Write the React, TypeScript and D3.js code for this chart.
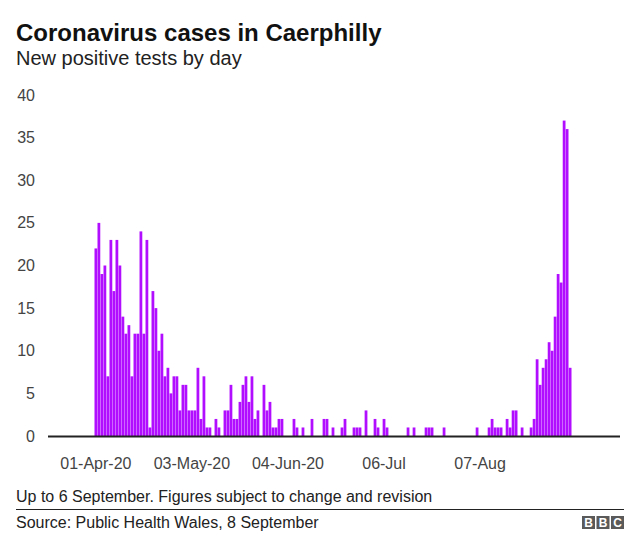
import * as d3 from 'd3';

// daily new positive tests, 1 Apr 2020 -> 6 Sep 2020
const START = new Date(2020, 3, 1);
const END = new Date(2020, 8, 7);
const cases = [
  22, 25, 19, 20, 7, 23, 17, 23, 20, 14, 12, 13, 7, 12, 12, 24, 12, 23, 1, 17,
  15, 10, 12, 7, 8, 5, 7, 7, 3, 6, 6, 3, 3, 3, 8, 2, 7, 1, 1, 0,
  2, 1, 0, 3, 3, 6, 2, 2, 4, 6, 7, 4, 7, 2, 3, 0, 6, 3, 4, 1,
  1, 2, 2, 0, 0, 0, 2, 1, 0, 1, 0, 0, 2, 0, 0, 0, 2, 2, 0, 1,
  0, 0, 1, 2, 0, 0, 1, 1, 1, 0, 3, 0, 0, 2, 1, 0, 2, 1, 0, 0,
  0, 0, 0, 0, 1, 0, 1, 0, 0, 0, 1, 1, 1, 0, 0, 0, 1, 0, 0, 0,
  0, 0, 0, 0, 0, 0, 0, 1, 0, 0, 0, 1, 2, 1, 1, 1, 0, 2, 1, 3,
  3, 0, 1, 0, 0, 1, 2, 9, 6, 8, 9, 11, 10, 14, 19, 18, 37, 36, 8,
];
const tickDates = ['2020-04-01', '2020-05-03', '2020-06-04', '2020-07-06', '2020-08-07'];
const tickLabels = ['01-Apr-20', '03-May-20', '04-Jun-20', '06-Jul', '07-Aug'];
const yTicks = [0, 5, 10, 15, 20, 25, 30, 35, 40];

const W = 640;
const H = 552;
const FONT = '"Liberation Sans", Arial, Helvetica, sans-serif';
const BAR = '#b10dff';

const days = d3.timeDay.range(START, END);
const fmt = d3.timeFormat('%Y-%m-%d');
const data = days.map((d, i) => ({ key: fmt(d), value: cases[i] ?? 0 }));

export default function App() {
  const x = d3.scaleBand<string>()
    .domain(data.map(d => d.key))
    .range([94.5, 571.5])
    .paddingInner(0.08)
    .paddingOuter(0);

  const y = d3.scaleLinear().domain([0, 40]).range([436, 95]);

  return (
    <div style={{ position: 'absolute', left: 0, top: 0 }}>
      <svg width={W} height={H} style={{ display: 'block', background: '#fff' }} fontFamily={FONT}>
        <text x={16} y={41} fontSize={24} fontWeight="bold" fill="#111">
          Coronavirus cases in Caerphilly
        </text>
        <text x={16} y={65} fontSize={20} fill="#222">
          New positive tests by day
        </text>

        {/* y labels */}
        {yTicks.map(t => (
          <text key={t} x={35} y={y(t)} dy="0.35em" textAnchor="end" fontSize={16} fill="#444">
            {t}
          </text>
        ))}

        {/* bars */}
        {data.filter(d => d.value > 0).map(d => (
          <rect
            key={d.key}
            x={x(d.key)!}
            y={y(d.value)}
            width={x.bandwidth()}
            height={y(0) - y(d.value)}
            fill={BAR}
          />
        ))}

        {/* baseline */}
        <line x1={48} x2={620} y1={y(0) + 0.5} y2={y(0) + 0.5} stroke="#222" strokeWidth={2} />

        {/* x labels */}
        {tickDates.map((t, i) => (
          <text key={t} x={x(t)! + x.bandwidth() / 2} y={469} textAnchor="middle" fontSize={16} fill="#444">
            {tickLabels[i]}
          </text>
        ))}

        <text x={16} y={502} fontSize={16} fill="#222">
          Up to 6 September. Figures subject to change and revision
        </text>
        <line x1={16} x2={624} y1={509.5} y2={509.5} stroke="#222" strokeWidth={1} />
        <text x={16} y={528} fontSize={16} fill="#222">
          Source: Public Health Wales, 8 September
        </text>

        {/* BBC blocks */}
        {['B', 'B', 'C'].map((c, i) => (
          <g key={i} transform={`translate(${582 + i * 14.5},516)`}>
            <rect width={13} height={13} fill="#5a5a5a" />
            <text x={6.5} y={11} textAnchor="middle" fontSize={12} fontWeight="bold" fill="#fff">
              {c}
            </text>
          </g>
        ))}
      </svg>
    </div>
  );
}
